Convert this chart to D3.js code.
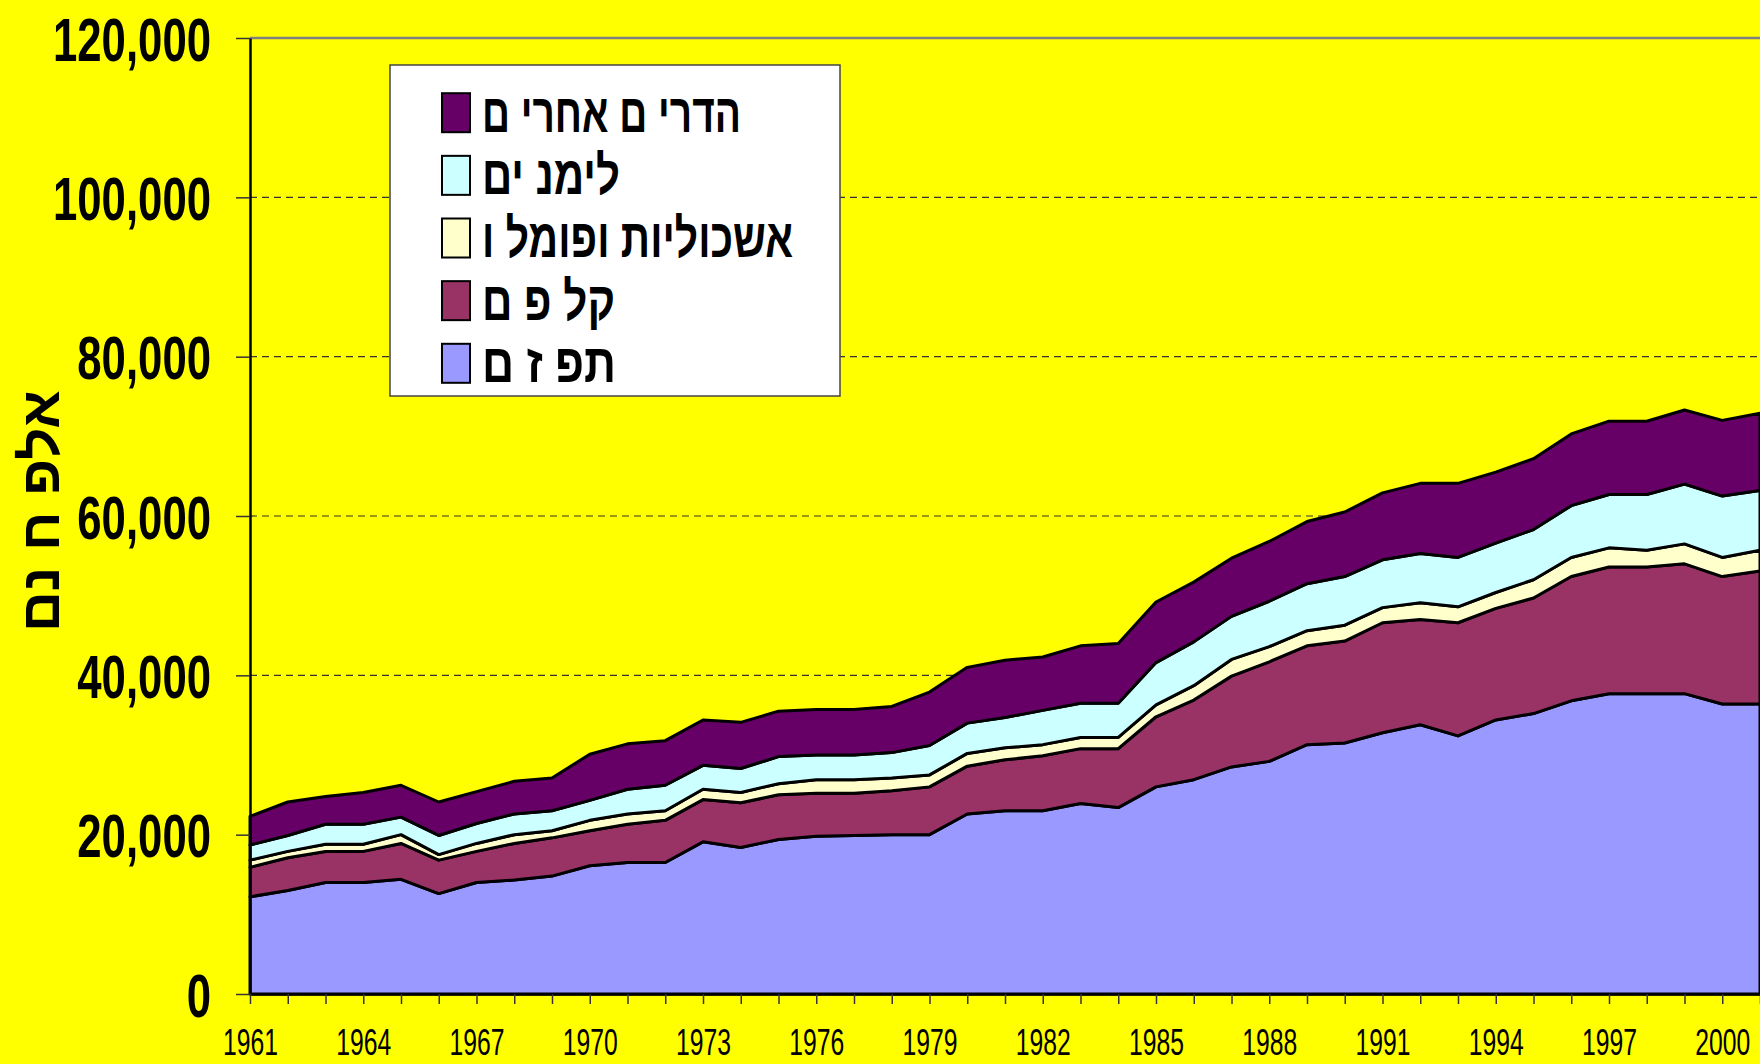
<!DOCTYPE html>
<html>
<head>
<meta charset="utf-8">
<script src="https://cdn.jsdelivr.net/npm/d3@7"></script>
<style>
  html, body { margin: 0; padding: 0; background: #ffff00; }
  svg { display: block; }
</style>
</head>
<body>
<svg id="chart" width="1760" height="1064"></svg>
<script>
// years on the x axis (the plot runs on past the right edge of the picture)
var years = [1961, 1962, 1963, 1964, 1965, 1966, 1967, 1968, 1969, 1970,
  1971, 1972, 1973, 1974, 1975, 1976, 1977, 1978, 1979, 1980,
  1981, 1982, 1983, 1984, 1985, 1986, 1987, 1988, 1989, 1990,
  1991, 1992, 1993, 1994, 1995, 1996, 1997, 1998, 1999, 2000, 2001];

// stacked series, bottom to top
var oranges = [12200, 13000, 14000, 14000, 14400, 12600, 14000, 14300, 14800, 16100,
  16500, 16500, 19100, 18400, 19400, 19800, 19900, 20000, 20000, 22600,
  23000, 23000, 23900, 23400, 26000, 26900, 28500, 29200, 31300, 31500,
  32800, 33800, 32400, 34400, 35200, 36800, 37700, 37700, 37700, 36400, 36400];
var easyPeelers = [3700, 4100, 3900, 3900, 4500, 4200, 3900, 4600, 4800, 4400,
  4800, 5300, 5300, 5600, 5600, 5400, 5300, 5500, 6000, 6000,
  6400, 6900, 6900, 7400, 8800, 10000, 11400, 12500, 12400, 12800,
  13800, 13200, 14200, 14000, 14500, 15600, 15900, 15900, 16300, 16000, 16700];
var grapefruit = [900, 800, 900, 900, 1100, 700, 1000, 1100, 900, 1300,
  1300, 1200, 1300, 1300, 1400, 1700, 1700, 1600, 1500, 1600,
  1500, 1400, 1400, 1400, 1500, 1800, 2100, 1900, 1900, 2000,
  1900, 2100, 2000, 2000, 2300, 2400, 2400, 2100, 2500, 2400, 2600];
var lemons = [1900, 2000, 2500, 2500, 2200, 2400, 2500, 2600, 2500, 2500,
  3100, 3200, 3000, 3000, 3400, 3100, 3100, 3200, 3700, 3800,
  3800, 4300, 4300, 4300, 5300, 5500, 5400, 5700, 5900, 6100,
  6000, 6200, 6200, 6200, 6300, 6500, 6700, 7000, 7500, 7700, 7500];
var otherCitrus = [3600, 4200, 3500, 4000, 4000, 4200, 4000, 4100, 4100, 5800,
  5700, 5600, 5700, 5800, 5700, 5700, 5700, 5800, 6700, 7000,
  7200, 6700, 7200, 7500, 7600, 7500, 7300, 7500, 7800, 8100,
  8400, 8800, 9300, 8900, 8900, 9000, 9200, 9200, 9300, 9500, 9700];

var seriesKeys = ['oranges', 'easyPeelers', 'grapefruit', 'lemons', 'otherCitrus'];
var seriesNames = ['תפ ז ם', 'קל פ ם', 'אשכוליות ופומל ו', 'לימנ ים', 'הדרי ם אחרי ם'];
var seriesColors = ['#9999ff', '#993366', '#ffffcc', '#ccffff', '#660066'];

var yTicks = [0, 20000, 40000, 60000, 80000, 100000, 120000];
var yGrid = [20000, 40000, 60000, 80000, 100000];
var yearLabels = [1961, 1964, 1967, 1970, 1973, 1976, 1979, 1982, 1985, 1988, 1991, 1994, 1997, 2000];
var yTitle = 'אלפ ח נם';

var svg = d3.select('#chart');

var x = d3.scaleLinear().domain([1961, 2001]).range([250, 1760]);
var y = d3.scaleLinear().domain([0, 120000]).range([994, 38]);

var table = years.map(function (yr, i) {
  return {
    year: yr,
    oranges: oranges[i],
    easyPeelers: easyPeelers[i],
    grapefruit: grapefruit[i],
    lemons: lemons[i],
    otherCitrus: otherCitrus[i]
  };
});
var layers = d3.stack().keys(seriesKeys)(table);

// dashed gridlines
svg.append('g').selectAll('line')
  .data(yGrid)
  .enter()
  .append('line')
  .attr('x1', x(1961))
  .attr('x2', 1760)
  .attr('y1', y)
  .attr('y2', y)
  .style('stroke', '#333')
  .style('stroke-width', 1.2)
  .style('stroke-dasharray', '7,5');

// top border of the plot area
svg.append('line')
  .attr('x1', x(1961))
  .attr('x2', 1760)
  .attr('y1', y(120000))
  .attr('y2', y(120000))
  .style('stroke', '#808080')
  .style('stroke-width', 2.5);

// the stacked areas
var area = d3.area()
  .x(function (d) { return x(d.data.year); })
  .y0(function (d) { return y(d[0]); })
  .y1(function (d) { return y(d[1]); });

svg.append('g').selectAll('path')
  .data(layers)
  .enter()
  .append('path')
  .attr('d', area)
  .style('fill', function (d, i) { return seriesColors[i]; })
  .style('stroke', '#000')
  .style('stroke-width', 3)
  .style('stroke-linejoin', 'round');

// y axis
var yAxis = svg.append('g')
  .attr('transform', 'translate(' + x(1961) + ',0)')
  .call(d3.axisLeft(y).tickValues(yTicks).tickSize(14).tickSizeOuter(0).tickPadding(25)
    .tickFormat(d3.format(',')));
yAxis.select('.domain').style('stroke', '#000').style('stroke-width', 2.5);
yAxis.selectAll('.tick line').style('stroke', '#333').style('stroke-width', 1.5);
yAxis.selectAll('.tick text')
  .style('font-family', "'Liberation Sans Narrow', 'Liberation Sans', Arial, sans-serif")
  .style('font-weight', 'bold')
  .style('font-size', '62px')
  .style('fill', '#000')
  .attr('dy', '0.36em');

// x axis
var xAxis = svg.append('g')
  .attr('transform', 'translate(0,' + y(0) + ')')
  .call(d3.axisBottom(x).tickValues(years).tickSize(10).tickSizeOuter(0).tickPadding(25)
    .tickFormat(function (d) { return yearLabels.indexOf(d) >= 0 ? String(d) : ''; }));
xAxis.select('.domain').style('stroke', '#000').style('stroke-width', 2.5);
xAxis.selectAll('.tick line').style('stroke', '#333').style('stroke-width', 1.5);
xAxis.selectAll('.tick text')
  .style('font-family', "'Liberation Sans Narrow', 'Liberation Sans', Arial, sans-serif")
  .style('font-size', '36px')
  .style('fill', '#000');

// squeeze tick labels to the narrow look of the original
function squeeze(sel, refText, refWidth) {
  var k = null;
  sel.each(function () {
    if (this.textContent === refText) k = refWidth / this.getComputedTextLength();
  });
  sel.each(function () {
    if (!this.textContent) return;
    d3.select(this)
      .attr('textLength', this.getComputedTextLength() * k)
      .attr('lengthAdjust', 'spacingAndGlyphs');
  });
}
squeeze(yAxis.selectAll('.tick text'), '120,000', 158);
squeeze(xAxis.selectAll('.tick text'), '1961', 55);

// y axis title
svg.append('text')
  .attr('transform', 'translate(59,511) rotate(-90)')
  .attr('text-anchor', 'middle')
  .attr('textLength', 242)
  .attr('lengthAdjust', 'spacingAndGlyphs')
  .style('font-family', "'Liberation Sans', Arial, sans-serif")
  .style('font-weight', 'bold')
  .style('font-size', '54px')
  .text(yTitle);

// legend, top entry is the top series
var legend = svg.append('g');
legend.append('rect')
  .attr('x', 390)
  .attr('y', 65)
  .attr('width', 450)
  .attr('height', 331)
  .style('fill', '#fff')
  .style('stroke', '#444')
  .style('stroke-width', 1.5);

var legendWidths = [134, 133, 311, 138, 259];
var legendItems = legend.selectAll('.legend')
  .data(seriesKeys)
  .enter()
  .append('g')
  .attr('class', 'legend')
  .attr('transform', function (d, i) {
    return 'translate(0,' + (363.3 - i * 62.65) + ')';
  });

legendItems.append('rect')
  .attr('x', 442)
  .attr('y', -19.5)
  .attr('width', 28)
  .attr('height', 39)
  .style('fill', function (d, i) { return seriesColors[i]; })
  .style('stroke', '#000')
  .style('stroke-width', 2);

legendItems.append('text')
  .attr('x', 482)
  .attr('y', 19)
  .attr('textLength', function (d, i) { return legendWidths[i]; })
  .attr('lengthAdjust', 'spacingAndGlyphs')
  .style('font-family', "'Liberation Sans', Arial, sans-serif")
  .style('font-weight', 'bold')
  .style('font-size', '54px')
  .text(function (d, i) { return seriesNames[i]; });
</script>
</body>
</html>
